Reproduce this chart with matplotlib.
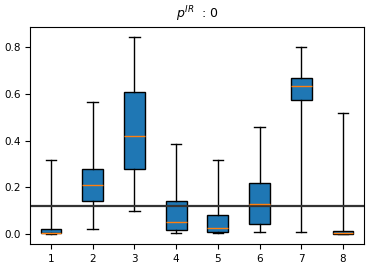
import matplotlib
matplotlib.use('Agg')
import matplotlib.pyplot as plt

labels = ['1', '2', '3', '4', '5', '6', '7', '8']
whislo = [0.0, 0.02, 0.10, 0.005, 0.005, 0.01, 0.01, 0.0]
q1 = [0.004, 0.14, 0.28, 0.017, 0.008, 0.045, 0.575, 0.0]
med = [0.005, 0.21, 0.42, 0.05, 0.025, 0.13, 0.635, 0.003]
q3 = [0.02, 0.28, 0.61, 0.14, 0.08, 0.22, 0.67, 0.012]
whishi = [0.317, 0.565, 0.845, 0.385, 0.315, 0.46, 0.80, 0.52]
ref_line = 0.118

stats = []
for i in range(len(labels)):
    stats.append({'label': labels[i], 'whislo': whislo[i], 'q1': q1[i], 'med': med[i],
                  'q3': q3[i], 'whishi': whishi[i], 'fliers': []})

fig, ax = plt.subplots(figsize=(3.72, 2.68), dpi=100)
fig.subplots_adjust(left=0.081, right=0.978, top=0.9, bottom=0.09)
bp = ax.bxp(stats, patch_artist=True, showfliers=False)
for b in bp['boxes']:
    b.set_facecolor('#1f77b4')
ax.axhline(ref_line, color='#333333', lw=1.6)
ax.set_title('$p^{IR}$  : 0', fontsize=9)
ax.tick_params(labelsize=7.5)
fig.savefig('out.png')
